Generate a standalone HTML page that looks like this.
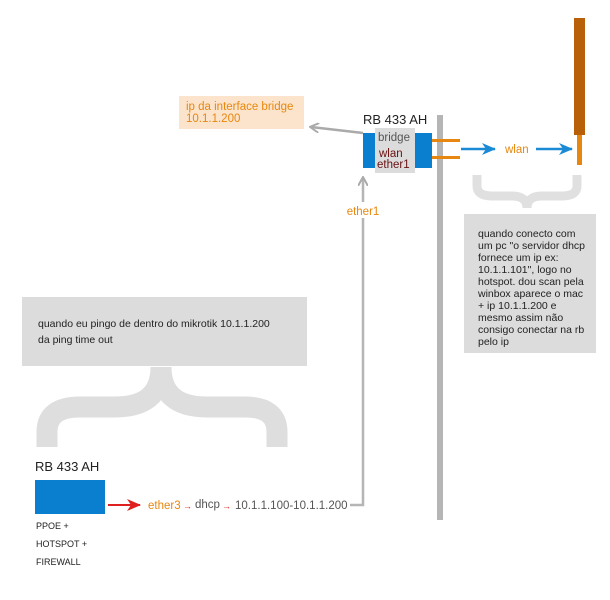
<!DOCTYPE html>
<html><head><meta charset="utf-8"><style>
html,body{margin:0;padding:0;background:#fff;}
svg{display:block;font-family:"Liberation Sans",Arial,sans-serif;}
</style></head><body>
<svg width="610" height="600" viewBox="0 0 610 600" xmlns="http://www.w3.org/2000/svg">
<defs>
<marker id="ag" markerWidth="10" markerHeight="10" refX="8" refY="5" orient="auto" markerUnits="userSpaceOnUse"><path d="M0,0 L9,5 L0,10" fill="none" stroke="#aaa" stroke-width="2"/></marker>
<marker id="ab" markerWidth="14" markerHeight="12" refX="13" refY="6" orient="auto" markerUnits="userSpaceOnUse"><path d="M0,0 L14,6 L0,12 L4,6 Z" fill="#1a8ad4"/></marker>
<marker id="ar" markerWidth="14" markerHeight="12" refX="13" refY="6" orient="auto" markerUnits="userSpaceOnUse"><path d="M0,0 L14,6 L0,12 L4,6 Z" fill="#e02020"/></marker>
</defs>

<rect x="574" y="18" width="11" height="117" fill="#b85f0a"/>
<rect x="577" y="135" width="5" height="30" fill="#e8870f"/>

<rect x="437" y="115" width="6" height="405" fill="#b5b5b5"/>

<rect x="179" y="96" width="125" height="33" fill="#fbe4cb"/>
<text x="186" y="110" font-size="11.5" fill="#e8870f">ip da interface bridge</text>
<text x="186" y="122" font-size="11.5" fill="#e8870f">10.1.1.200</text>
<line x1="363" y1="133" x2="311" y2="127" stroke="#aaa" stroke-width="2.5" marker-end="url(#ag)"/>

<text x="363" y="124" font-size="13" fill="#222">RB 433 AH</text>
<rect x="375" y="128" width="40" height="45" fill="#dcdcdc"/>
<rect x="363" y="133" width="12" height="35" fill="#0a7fcf"/>
<rect x="415" y="133" width="17" height="35" fill="#0a7fcf"/>
<text x="378" y="141" font-size="11.5" fill="#555">bridge</text>
<text x="379" y="157" font-size="11.5" fill="#6b1010">wlan</text>
<text x="377" y="168" font-size="11.5" fill="#6b1010">ether1</text>
<rect x="432" y="139" width="28" height="3" fill="#e8870f"/>
<rect x="432" y="156" width="28" height="3" fill="#e8870f"/>
<line x1="461" y1="149" x2="495" y2="149" stroke="#1a8ad4" stroke-width="2.5" marker-end="url(#ab)"/>
<text x="505" y="153" font-size="11.5" fill="#e8870f">wlan</text>
<line x1="536" y1="149" x2="572" y2="149" stroke="#1a8ad4" stroke-width="2.5" marker-end="url(#ab)"/>

<path d="M477,175 L477,186 Q477,196 492,196 L512,196 Q527,196 527,208 Q527,196 542,196 L562,196 Q577,196 577,186 L577,175" fill="none" stroke="#e0e0e0" stroke-width="9"/>
<rect x="464" y="214" width="132" height="139" fill="#dcdcdc"/>
<g font-size="10.5" fill="#222">
<text x="478" y="237">quando conecto com</text>
<text x="478" y="249">um pc "o servidor dhcp</text>
<text x="478" y="261">fornece um ip ex:</text>
<text x="478" y="273">10.1.1.101", logo no</text>
<text x="478" y="285">hotspot. dou scan pela</text>
<text x="478" y="297">winbox aparece o mac</text>
<text x="478" y="309">+ ip 10.1.1.200 e</text>
<text x="478" y="321">mesmo assim não</text>
<text x="478" y="333">consigo conectar na rb</text>
<text x="478" y="345">pelo ip</text>
</g>

<polyline points="350,505 363,505 363,178" fill="none" stroke="#b5b5b5" stroke-width="2.5" marker-end="url(#ag)"/>
<rect x="343" y="202" width="40" height="16" fill="#fff"/>
<text x="363" y="215" font-size="11.5" fill="#e8870f" text-anchor="middle">ether1</text>

<rect x="22" y="297" width="285" height="69" fill="#dcdcdc"/>
<text x="38" y="327" font-size="10.5" fill="#222">quando eu pingo de dentro do mikrotik 10.1.1.200</text>
<text x="38" y="343" font-size="10.5" fill="#222">da ping time out</text>
<path d="M161,367 Q161,407 115,407 L80,407 Q47,407 47,432 L47,447 M161,367 Q161,407 207,407 L245,407 Q277,407 277,432 L277,447" fill="none" stroke="#dedede" stroke-width="21"/>

<text x="35" y="471" font-size="13" fill="#222">RB 433 AH</text>
<rect x="35" y="480" width="70" height="34" fill="#0a7fcf"/>
<line x1="108" y1="505" x2="140" y2="505" stroke="#e02020" stroke-width="2" marker-end="url(#ar)"/>
<text x="148" y="509" font-size="11.5" fill="#e8870f">ether3</text>
<text x="183" y="509" font-size="9" fill="#e02020">→</text>
<text x="195" y="508" font-size="11.5" fill="#555">dhcp</text>
<text x="222" y="509" font-size="9" fill="#e02020">→</text>
<text x="235" y="509" font-size="11.5" fill="#555">10.1.1.100-10.1.1.200</text>
<g font-size="9" fill="#222">
<text x="36" y="529">PPOE +</text>
<text x="36" y="547">HOTSPOT +</text>
<text x="36" y="565">FIREWALL</text>
</g>
</svg>
</body></html>
